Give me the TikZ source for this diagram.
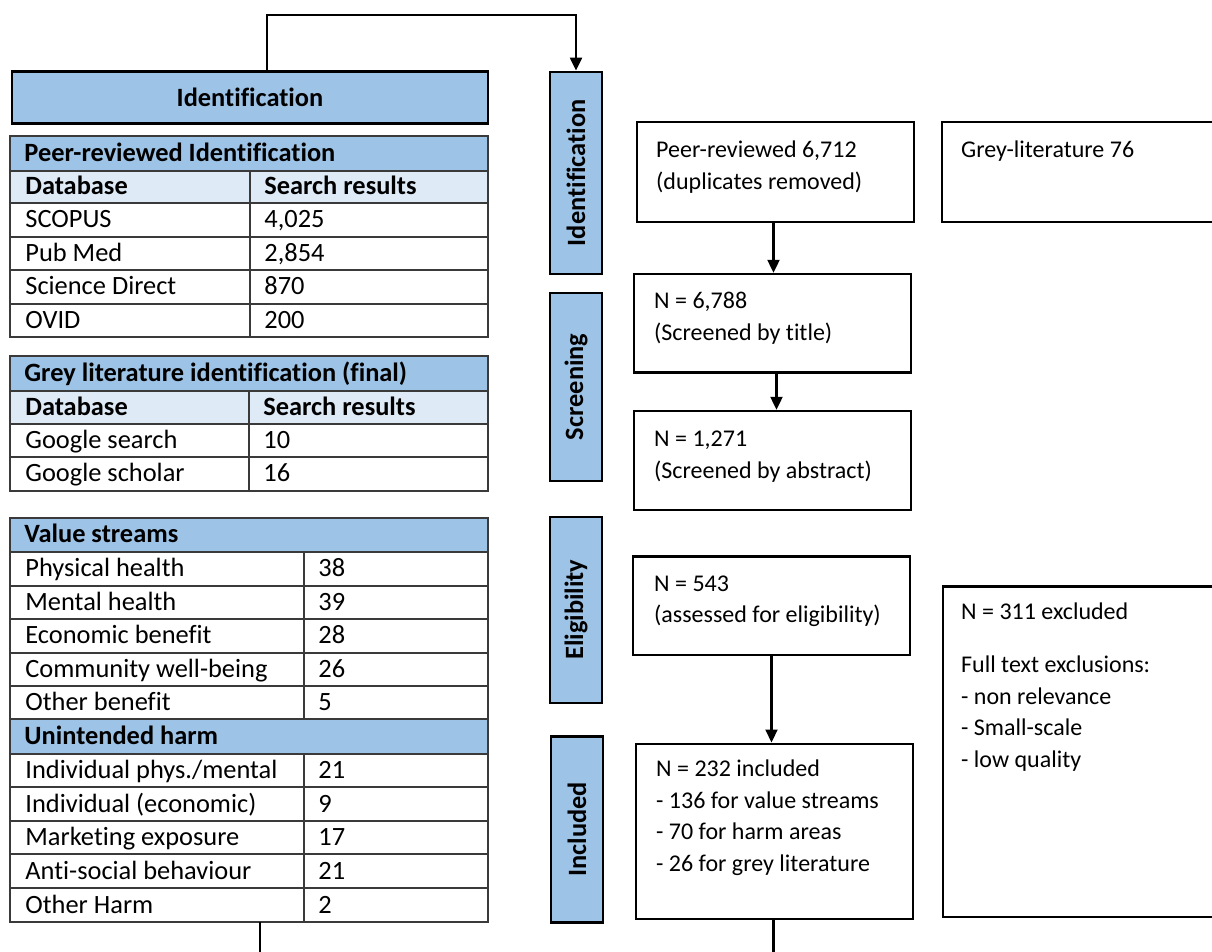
\documentclass[tikz,border=0pt]{standalone}
\usepackage{fontspec}
\setmainfont{Carlito}[Ligatures=NoCommon]
\usetikzlibrary{calc,positioning,arrows.meta}
\definecolor{hdblue}{HTML}{9DC3E6}
\definecolor{subblue}{HTML}{DEEBF7}
\definecolor{gridgray}{HTML}{3A3A3A}
\newcommand{\flowfont}{\fontsize{12}{15.75}\selectfont}
\newcommand{\cellfont}{\fontsize{13.2}{16}\selectfont}
\newcommand{\tabhead}[3]% top, bottom, text
	{
	\draw[gridline, fill=hdblue] (10,#1) rectangle (488,#2);
	\node[cellbold] (head#1) at (24,{(#1+#2)/2+8}) {#3};
	}
\newcommand{\tabsub}[3]% top, bottom, split
	{
	\draw[gridline, fill=subblue] (10,#1) rectangle (#3,#2) (#3,#1) rectangle (488,#2);
	\node[cellbold] (db#1) at (25,{(#1+#2)/2+8}) {Database};
	\node[cellbold] (sr#1) at (#3+14,{(#1+#2)/2+8}) {Search results};
	}
\newcommand{\tabrow}[5]% top, bottom, split, left, right
	{
	\draw[gridline] (10,#1) rectangle (#3,#2) (#3,#1) rectangle (488,#2);
	\node[celltext] (row#1) at (25,{(#1+#2)/2+8}) {#4};
	\node[celltext] (val#1) at (#3+14,{(#1+#2)/2+8}) {#5};
	}

\begin{document}
\begin{tikzpicture}[x=0.5pt, y=-0.5pt,
    gridline/.style={draw=gridgray, line width=0.7pt},
    celltext/.style={anchor=base west, inner sep=0pt, font=\cellfont},
    cellbold/.style={celltext, font=\cellfont\bfseries},
    stagebar/.style={draw=black, line width=1.2pt, fill=hdblue, rotate=90, minimum height=26pt, inner sep=0pt, font=\cellfont\bfseries},
    flowbox/.style={draw=black, line width=1.2pt, inner sep=0pt},
    boxtext/.style={anchor=north west, inner sep=0pt, align=left, font=\flowfont},
    arr/.style={line width=1.1pt, -{Triangle[length=6.5pt,width=6pt]}},
    link/.style={line width=1.1pt}]
    \useasboundingbox (0,0) rectangle (1212,952);
    \clip (0,0) rectangle (1212,952);

    % left column
    \node[draw=black, line width=1.1pt, fill=hdblue, minimum width=238pt, minimum height=26pt, font=\cellfont\bfseries] (idhead) at (250,97.5) {Identification};

    \tabhead{136}{171}{Peer-reviewed Identification}
    \tabsub{171}{203}{250}
    \tabrow{203}{237}{250}{SCOPUS}{4,025}
    \tabrow{237}{270}{250}{Pub Med}{2,854}
    \tabrow{270}{304}{250}{Science Direct}{870}
    \tabrow{304}{337}{250}{OVID}{200}

    \tabhead{356}{391}{Grey literature identification (final)}
    \tabsub{391}{424}{249}
    \tabrow{424}{457}{249}{Google search}{10}
    \tabrow{457}{491}{249}{Google scholar}{16}

    \tabhead{518}{552}{Value streams}
    \tabrow{552}{586}{304}{Physical health}{38}
    \tabrow{586}{619}{304}{Mental health}{39}
    \tabrow{619}{653}{304}{Economic benefit}{28}
    \tabrow{653}{686}{304}{Community well-being}{26}
    \tabrow{686}{719}{304}{Other benefit}{5}
    \tabhead{719}{754}{Unintended harm}
    \tabrow{754}{787}{304}{Individual phys./mental}{21}
    \tabrow{787}{821}{304}{Individual (economic)}{9}
    \tabrow{821}{854}{304}{Marketing exposure}{17}
    \tabrow{854}{888}{304}{Anti-social behaviour}{21}
    \tabrow{888}{922}{304}{Other Harm}{2}

    % stages
    \node[stagebar, minimum width=101pt] (idbar) at (576,172.8) {Identification};
    \node[stagebar, minimum width=94pt] (scrbar) at (576,386.8) {Screening};
    \node[stagebar, minimum width=93pt] (elibar) at (576,609.8) {Eligibility};
    \node[stagebar, minimum width=93pt] (incbar) at (577,829.4) {Included};

    % flow boxes
    \node[flowbox, minimum width=138.5pt, minimum height=50pt] (peer) at (775.5,172) {};
    \node[flowbox, minimum width=136pt, minimum height=50pt] (grey) at (1078,172) {};
    \node[flowbox, minimum width=138.5pt, minimum height=49.3pt] (title) at (772.5,323.3) {};
    \node[flowbox, minimum width=138.5pt, minimum height=49.5pt] (abstract) at (772.5,460.5) {};
    \node[flowbox, minimum width=138.5pt, minimum height=49.2pt] (elig) at (771.5,605.8) {};
    \node[flowbox, minimum width=138.5pt, minimum height=87.6pt] (incl) at (774.5,831.3) {};
    \node[flowbox, minimum width=135.5pt, minimum height=165.2pt] (excl) at (1078.5,751.8) {};

    \node[boxtext] (peertxt) at ($(peer.north west)+(20,14.5)$) {\strut Peer-reviewed 6,712\\(duplicates removed)};
    \node[boxtext] (greytxt) at ($(grey.north west)+(20,14.5)$) {\strut Grey-literature 76};
    \node[boxtext] (titletxt) at ($(title.north west)+(21,13.5)$) {\strut N = 6,788\\(Screened by title)};
    \node[boxtext] (abstracttxt) at ($(abstract.north west)+(21,14.5)$) {\strut N = 1,271\\(Screened by abstract)};
    \node[boxtext] (eligtxt) at ($(elig.north west)+(22,13.5)$) {\strut N = 543\\(assessed for eligibility)};
    \node[boxtext] (incltxt) at ($(incl.north west)+(21,12)$) {\strut N = 232 included\\- 136 for value streams\\- 70 for harm areas\\- 26 for grey literature};
    \node[boxtext] (excltxt) at ($(excl.north west)+(19,11.5)$) {\strut N = 311 excluded\\[11pt]Full text exclusions:\\- non relevance\\- Small-scale\\- low quality};

    % connectors
    \coordinate (topleft) at (267,15);
    \draw[arr] (topleft |- idhead.north) -- (topleft) -| (idbar.east);
    \draw[arr] ([xshift=-1pt]peer.south) -- ([xshift=-1pt]peer.south |- title.north);
    \draw[arr] ([xshift=2pt]title.south) -- ([xshift=2pt]title.south |- abstract.north);
    \draw[arr] (elig.south) -- (elig.south |- incl.north);
    \coordinate (valbot) at (260,922);
    \coordinate (pagebot) at (260,960);
    \draw[link] (valbot) -- (pagebot);
    \draw[link] ([xshift=-0.5pt]incl.south) -- ([xshift=-0.5pt]incl.south |- pagebot);
\end{tikzpicture}
\end{document}
